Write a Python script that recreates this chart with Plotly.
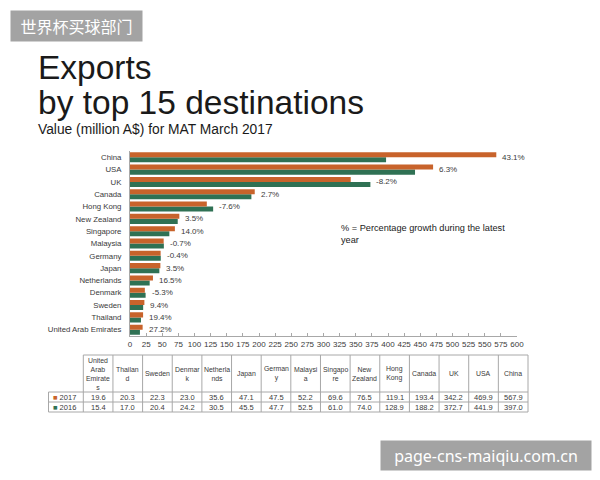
import plotly.graph_objects as go

countries = ["United Arab Emirates", "Thailand", "Sweden", "Denmark", "Netherlands", "Japan",
             "Germany", "Malaysia", "Singapore", "New Zealand", "Hong Kong", "Canada", "UK", "USA", "China"]
table_headers = ["United<br>Arab<br>Emirate<br>s", "Thailan<br>d", "Sweden", "Denmar<br>k", "Netherla<br>nds",
                 "Japan", "German<br>y", "Malaysi<br>a", "Singapo<br>re", "New<br>Zealand", "Hong<br>Kong",
                 "Canada", "UK", "USA", "China"]
v2017 = [19.6, 20.3, 22.3, 23.0, 35.6, 47.1, 47.5, 52.2, 69.6, 76.5, 119.1, 193.4, 342.2, 469.9, 567.9]
v2016 = [15.4, 17.0, 20.4, 24.2, 30.5, 45.5, 47.7, 52.5, 61.0, 74.0, 128.9, 188.2, 372.7, 441.9, 397.0]
growth = ["27.2%", "19.4%", "9.4%", "-5.3%", "16.5%", "3.5%", "-0.4%", "-0.7%", "14.0%", "3.5%",
          "-7.6%", "2.7%", "-8.2%", "6.3%", "43.1%"]
series_names = ["2017", "2016"]
x_ticks = list(range(0, 601, 25))

C17 = "#C8632B"
C16 = "#2F7154"
TXT = "#3a3a3a"
GRID = "#a8a8a8"
FONT = "Liberation Sans, Arial, sans-serif"

W, H = 600, 480
def px(x): return x / W
def py(y): return 1 - y / H

fig = go.Figure()
fig.add_trace(go.Bar(y=countries, x=v2016, orientation="h", marker=dict(color=C16, line=dict(width=0)),
                     name="2016", showlegend=False, hoverinfo="skip"))
fig.add_trace(go.Bar(y=countries, x=v2017, orientation="h", marker=dict(color=C17, line=dict(width=0)),
                     name="2017", showlegend=False, hoverinfo="skip"))

for c, a, b, g in zip(countries, v2017, v2016, growth):
    fig.add_annotation(x=max(a, b), y=c, text=g, showarrow=False, xanchor="left", yanchor="middle", xshift=4,
                       font=dict(size=8, color=TXT, family=FONT))

# ---- Table drawn with shapes + annotations ----
T_LEFT, LBL_RIGHT, T_RIGHT = 48.5, 83.3, 528
T_TOP, HDR_BOT, ROW1_BOT, ROW2_BOT = 355, 392, 402, 412
ncol = len(countries)
colw = (T_RIGHT - LBL_RIGHT) / ncol
edges = [LBL_RIGHT + i * colw for i in range(ncol + 1)]

def line(x0, y0, x1, y1):
    fig.add_shape(type="line", xref="paper", yref="paper", x0=px(x0), y0=py(y0), x1=px(x1), y1=py(y1),
                  line=dict(color=GRID, width=1))

line(LBL_RIGHT, T_TOP, T_RIGHT, T_TOP)
for yy in (HDR_BOT, ROW1_BOT, ROW2_BOT):
    line(T_LEFT, yy, T_RIGHT, yy)
for xx in edges:
    line(xx, T_TOP, xx, ROW2_BOT)
line(T_LEFT, HDR_BOT, T_LEFT, ROW2_BOT)

def txt(x, y, s, size=7.5, xanchor="center"):
    fig.add_annotation(x=px(x), y=py(y), xref="paper", yref="paper", text=s, showarrow=False,
                       xanchor=xanchor, yanchor="middle", align="center",
                       font=dict(size=size, color=TXT, family=FONT), borderpad=0)

hdr_mid = (T_TOP + HDR_BOT) / 2
for i, h in enumerate(table_headers):
    cx = (edges[i] + edges[i + 1]) / 2
    txt(cx, hdr_mid, h, size=6.9)

row_mids = [(HDR_BOT + ROW1_BOT) / 2, (ROW1_BOT + ROW2_BOT) / 2]
for vals, ym in zip((v2017, v2016), row_mids):
    for i, v in enumerate(vals):
        cx = (edges[i] + edges[i + 1]) / 2
        txt(cx, ym, f"{v:.1f}")

for name, col, ym in zip(series_names, (C17, C16), row_mids):
    txt(51.5, ym, f"<span style='color:{col}'>■</span> {name}", xanchor="left")

fig.update_layout(
    width=W, height=H, margin=dict(l=0, r=0, t=0, b=0),
    paper_bgcolor="white", plot_bgcolor="white",
    barmode="group", bargap=0.18, bargroupgap=0,
    font=dict(family=FONT, color=TXT),
    xaxis=dict(domain=[px(130), px(517)], range=[0, 600], tickvals=x_ticks, tickangle=0, showgrid=False,
               zeroline=False, showline=True, linecolor=GRID, linewidth=1,
               ticks="inside", ticklen=3, tickcolor=GRID, automargin=False,
               tickfont=dict(size=8, color=TXT, family=FONT), fixedrange=True),
    yaxis=dict(domain=[py(336.2), py(150.8)], showgrid=False, zeroline=False, showline=True,
               linecolor=GRID, linewidth=1, ticks="", categoryorder="array", automargin=False,
               categoryarray=countries, tickfont=dict(size=7.8, color=TXT, family=FONT),
               ticklabelstandoff=6, fixedrange=True),
    showlegend=False,
)

# Titles
fig.add_annotation(x=px(36), y=py(47), xref="paper", yref="paper", xanchor="left", yanchor="top",
                   text="Exports", showarrow=False, font=dict(size=33.5, color="#1a1a1a", family=FONT))
fig.add_annotation(x=px(36), y=py(82), xref="paper", yref="paper", xanchor="left", yanchor="top",
                   text="by top 15 destinations", showarrow=False, font=dict(size=33.5, color="#1a1a1a", family=FONT))
fig.add_annotation(x=px(36), y=py(120), xref="paper", yref="paper", xanchor="left", yanchor="top",
                   text="Value (million A$) for MAT March 2017", showarrow=False,
                   font=dict(size=13.8, color="#1a1a1a", family=FONT))
fig.add_annotation(x=px(339), y=py(221), xref="paper", yref="paper", xanchor="left", yanchor="top",
                   align="left", text="% = Percentage growth during the latest<br>year", showarrow=False,
                   font=dict(size=9.2, color="#1a1a1a", family=FONT))

# Watermarks
fig.add_annotation(x=px(10), y=py(10), xref="paper", yref="paper", xanchor="left", yanchor="top",
                   width=131, height=30, borderpad=0, bgcolor="#A3A3A3", align="center", valign="middle",
                   text="世界杯买球部门", showarrow=False,
                   font=dict(size=16, color="white", family="Noto Sans CJK SC"))
fig.add_annotation(x=px(380), y=py(440), xref="paper", yref="paper", xanchor="left", yanchor="top",
                   width=210, height=29, borderpad=0, bgcolor="#A3A3A3", align="center", valign="middle",
                   text="page-cns-maiqiu.com.cn", showarrow=False,
                   font=dict(size=16, color="white", family="Noto Sans, sans-serif"))

fig.write_html("out.html")
